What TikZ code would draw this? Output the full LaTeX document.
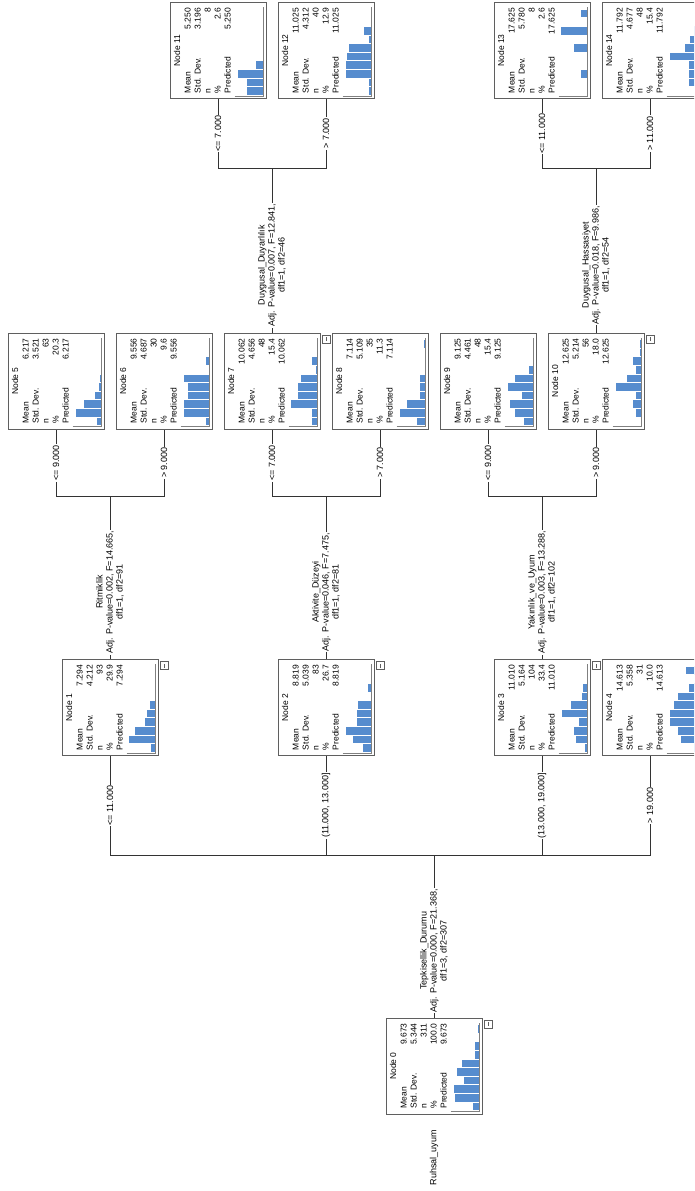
\documentclass[tikz,border=0pt]{standalone}
\usepackage{fontspec}
\setmainfont{Liberation Sans}
\usepackage{tikz}
\usetikzlibrary{positioning}
\usetikzlibrary{calc}
\usepackage{xcolor}
\definecolor{barblue}{RGB}{86,140,206}
\definecolor{framegray}{RGB}{95,95,95}

\newcommand{\nodestats}[6]{\parbox[c][90pt][t]{85pt}{%
  \begin{tabular*}{85pt}{@{}l@{\extracolsep{\fill}}r@{}}
  \multicolumn{2}{c}{Node #1}\\[0.5pt]
  Mean & #2\\ Std. Dev. & #3\\ n & #4\\ \% & #5\\ Predicted & #6
  \end{tabular*}}}

\newcommand{\histo}[2]{%
  \foreach \h [count=\i] in {#2} {
    \ifdim\h pt>0pt
      \fill[barblue, draw=white, line width=0.5pt] ($(#1.south west)+(-3-\h,-4-8.6*\i)$) rectangle ($(#1.south west)+(-3,4.6-8.6*\i)$);
    \fi
  }
  \draw[axisline] ($(#1.south west)+(-32,-3)$) -| ($(#1.south west)+(-3,-92)$);
}

\begin{document}
\begin{tikzpicture}[x=1pt, y=-1pt,
  treebox/.style = {draw=framegray, line width=1pt, rotate=90, minimum width=96pt,
    minimum height=96pt, inner sep=0pt, font=\fontsize{8.5}{10}\selectfont},
  togglebox/.style = {draw=framegray, fill=white, minimum size=8pt, inner sep=0pt,
    path picture={\draw ([yshift=2pt]path picture bounding box.south) -- ([yshift=-2pt]path picture bounding box.north);}},
  link/.style = {draw=black!80, line width=0.6pt},
  splitlabel/.style = {rotate=90, fill=white, align=center, inner sep=1pt, font=\fontsize{9}{10}\selectfont},
  condlabel/.style = {rotate=90, fill=white, inner sep=1pt, font=\fontsize{9}{10}\selectfont},
  axisline/.style = {draw=gray, line width=0.8pt}
]
\clip (0,0) rectangle (694,1191);
\fill[white] (0,0) rectangle (694,1191);

% nodes
\node[treebox] (n0) at (434,1066) {\nodestats{0}{9.673}{5.344}{311}{100.0}{9.673}};
\node[treebox] (n1) at (110,707.5) {\nodestats{1}{7.294}{4.212}{93}{29.9}{7.294}};
\node[treebox] (n2) at (326,707.5) {\nodestats{2}{8.819}{5.039}{83}{26.7}{8.819}};
\node[treebox] (n3) at (542,707.5) {\nodestats{3}{11.010}{5.164}{104}{33.4}{11.010}};
\node[treebox] (n4) at (650,707.5) {\nodestats{4}{14.613}{5.358}{31}{10.0}{14.613}};
\node[treebox] (n5) at (56,381) {\nodestats{5}{6.217}{3.521}{63}{20.3}{6.217}};
\node[treebox] (n6) at (164,381) {\nodestats{6}{9.556}{4.687}{30}{9.6}{9.556}};
\node[treebox] (n7) at (272,381) {\nodestats{7}{10.062}{4.656}{48}{15.4}{10.062}};
\node[treebox] (n8) at (380,381) {\nodestats{8}{7.114}{5.109}{35}{11.3}{7.114}};
\node[treebox] (n9) at (488,381) {\nodestats{9}{9.125}{4.461}{48}{15.4}{9.125}};
\node[treebox] (n10) at (596,381) {\nodestats{10}{12.625}{5.214}{56}{18.0}{12.625}};
\node[treebox] (n11) at (218,50.5) {\nodestats{11}{5.250}{3.196}{8}{2.6}{5.250}};
\node[treebox] (n12) at (326,50.5) {\nodestats{12}{11.025}{4.312}{40}{12.9}{11.025}};
\node[treebox] (n13) at (542,50.5) {\nodestats{13}{17.625}{5.780}{8}{2.6}{17.625}};
\node[treebox] (n14) at (650,50.5) {\nodestats{14}{11.792}{4.677}{48}{15.4}{11.792}};

\node[rotate=90, anchor=west, font=\fontsize{9}{10}\selectfont] (dep) at (434,1189) {Ruhsal\_uyum};

\foreach \nm in {n0,n1,n2,n3,n7,n10}
  \node[togglebox] (t\nm) at ($(\nm.south east)+(5.5,6.5)$) {};

% histograms
\histo{n0}{7,25,26,16,23,18,5,5,1,2.5}
\histo{n1}{5,27,21,11.5,9,6.6,1.5,0,1.3,0}
\histo{n2}{9,19,26.5,15.5,15.5,14,1,4,0,1.5}
\histo{n3}{3.5,12,14.6,9,26.5,17,5.8,5.3,1,0.5}
\histo{n4}{2.3,15.6,17.8,25.8,26.7,22,18.7,7.6,0,9.8}
\histo{n5}{5,26,18,7,3.5,2,1,0,0,0}
\histo{n6}{4.4,26.5,26.5,22,22,26.5,0,4.4,0,0}
\histo{n7}{6.6,6.6,27,20,20,17.7,2.6,6.6,0,0}
\histo{n8}{9,26,19.5,6.6,6.6,6.6,0,0,0,2.2}
\histo{n9}{10,19,24,12.4,26.5,19,5.7,0,0,0}
\histo{n10}{0,6.6,8.8,6.6,26.5,15,6.6,8.8,2.2,2.2}
\histo{n11}{17,17,26,8.5,0,0,0,0,0,0}
\histo{n12}{3.3,3.3,26,26,25,23,3.3,8,0,0}
\histo{n13}{0,0,7,0,0,14,0,27,0,7}
\histo{n14}{0,7,7,7,26,11,6,2,0,0}

% splits
\coordinate (j0) at (434,855);
\coordinate (j1) at (110,496);
\coordinate (j2) at (326,496);
\coordinate (j3) at (542,496);
\coordinate (j7) at (272,168);
\coordinate (j10) at (596,168);

\draw[link] (n0.east) -- node[splitlabel, pos=0.41] (s0) {Tepkisellik\_Durumu\\Adj. P-value=0.000, F=21.368,\\df1=3, df2=307} (j0);
\draw[link] (j0) -| node[condlabel, pos=0.75] (c1) {<= 11.000} (n1.west);
\draw[link] (j0) -| node[condlabel, pos=0.75] (c2) {(11.000, 13.000]} (n2.west);
\draw[link] (j0) -| node[condlabel, pos=0.75] (c3) {(13.000, 19.000]} (n3.west);
\draw[link] (j0) -| node[condlabel, pos=0.75] (c4) {> 19.000} (n4.west);

\draw[link] (n1.east) -- node[splitlabel, pos=0.41] (s1) {Ritmiklik\\Adj. P-value=0.002, F=14.665,\\df1=1, df2=91} (j1);
\draw[link] (j1) -| node[condlabel, pos=0.75] (c5) {<= 9.000} (n5.west);
\draw[link] (j1) -| node[condlabel, pos=0.75] (c6) {> 9.000} (n6.west);

\draw[link] (n2.east) -- node[splitlabel, pos=0.41] (s2) {Aktivite\_Düzeyi\\Adj. P-value=0.046, F=7.475,\\df1=1, df2=81} (j2);
\draw[link] (j2) -| node[condlabel, pos=0.75] (c7) {<= 7.000} (n7.west);
\draw[link] (j2) -| node[condlabel, pos=0.75] (c8) {> 7.000} (n8.west);

\draw[link] (n3.east) -- node[splitlabel, pos=0.41] (s3) {Yakınlık\_ve\_Uyum\\Adj. P-value=0.003, F=13.288,\\df1=1, df2=102} (j3);
\draw[link] (j3) -| node[condlabel, pos=0.75] (c9) {<= 9.000} (n9.west);
\draw[link] (j3) -| node[condlabel, pos=0.75] (c10) {> 9.000} (n10.west);

\draw[link] (n7.east) -- node[splitlabel, pos=0.41] (s7) {Duygusal\_Duyarlılık\\Adj. P-value=0.007, F=12.841,\\df1=1, df2=46} (j7);
\draw[link] (j7) -| node[condlabel, pos=0.75] (c11) {<= 7.000} (n11.west);
\draw[link] (j7) -| node[condlabel, pos=0.75] (c12) {> 7.000} (n12.west);

\draw[link] (n10.east) -- node[splitlabel, pos=0.41] (s10) {Duygusal\_Hassasiyet\\Adj. P-value=0.018, F=9.986,\\df1=1, df2=54} (j10);
\draw[link] (j10) -| node[condlabel, pos=0.75] (c13) {<= 11.000} (n13.west);
\draw[link] (j10) -| node[condlabel, pos=0.75] (c14) {> 11.000} (n14.west);
\end{tikzpicture}
\end{document}
